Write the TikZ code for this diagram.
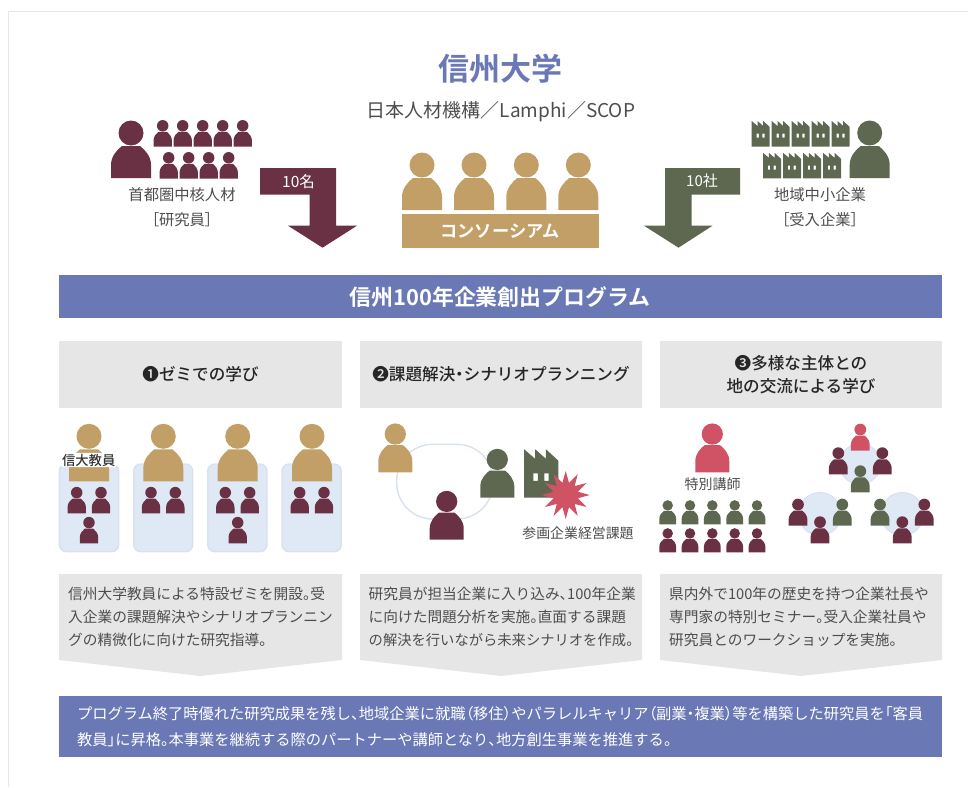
\documentclass[tikz,border=0pt]{standalone}
\usepackage{fontspec}
\setmainfont{Noto Sans CJK JP}[BoldFont={Noto Sans CJK JP Medium}]
\newfontfamily\pf{Noto Sans CJK JP}[RawFeature={+palt},BoldFont={Noto Sans CJK JP Medium}]
\newfontfamily\strongf{Noto Sans CJK JP Bold}
\newcommand{\pp}[1]{{\pf #1}}
\usetikzlibrary{shapes.geometric}
\definecolor{maroon}{HTML}{6A3145}
\definecolor{tan}{HTML}{C39F68}
\definecolor{olive}{HTML}{5E6851}
\definecolor{rosered}{HTML}{D05265}
\definecolor{peri}{HTML}{6A78B5}
\definecolor{greybox}{HTML}{E6E6E6}
\definecolor{txt}{HTML}{4D4D4D}
\definecolor{paleblue}{HTML}{DFE8F5}
\definecolor{paleedge}{HTML}{D9E0EF}
\newcommand{\fsz}[2]{\fontsize{#1}{#2}\selectfont}
% centre x, bottom y, scale, colour
\newcommand{\person}[4]{%
  \begin{scope}[shift={(#1,#2)},scale=#3]
    \fill[#4] (0,-45) circle[radius=12.5];
    \fill[#4] (-20,0) -- (-20,-13) .. controls (-20,-22) and (-14,-28) .. (-9,-32)
      -- (9,-32) .. controls (14,-28) and (20,-22) .. (20,-13) -- (20,0) -- cycle;
  \end{scope}}
% centre x, bottom y, scale, colour
\newcommand{\factory}[4]{%
  \begin{scope}[shift={(#1,#2)},scale=#3]
    \fill[#4,even odd rule] (-9,0) -- (-9,-25.5) -- (-3.2,-20.5) -- (-3.2,-25.5) -- (2.5,-20.5) -- (2.5,-25.5)
      -- (9,-19.5) -- (9,0) -- cycle
      (-4.1,-8.8) rectangle (-1.8,-12.8)
      (1.7,-8.8) rectangle (3.9,-12.8);
  \end{scope}}
\tikzset{
  label/.style={text=txt,inner sep=0pt,font=\fsz{15.3}{18}},
  head/.style={text=black!85,inner sep=0pt,font=\fsz{16.6}{23}\bfseries,align=center},
  desc/.style={text=txt,inner sep=0pt,anchor=north west,align=left,font=\fsz{14.7}{23}},
  band/.style={fill=peri},
  greyrect/.style={fill=greybox},
  seat/.style={fill=paleblue,draw=paleedge,line width=1.3pt,rounded corners=7pt},
  disc/.style={fill=paleblue,draw=paleedge,line width=1pt}
}
\begin{document}
\begin{tikzpicture}[x=1pt,y=-1pt]
\useasboundingbox (0,0) rectangle (968,787);
% frame
\draw[greybox,line width=.8pt] (8.5,787) -- (8.5,11.5) -- (968,11.5);

% title
\node[text=peri,inner sep=0pt,font=\fsz{31}{36}\strongf] (title) at (500,69) {信州大学};
\node[text=txt,inner sep=0pt,font=\fsz{19}{24}] (sub) at (501,112) {\pp{日本人材機構／Lamphi／SCOP}};

% researchers
\person{131}{178}{1}{maroon}
\foreach \x in {162.7,182.7,202.7,222.7,242.7} {\person{\x}{146.5}{.46}{maroon}}
\foreach \x in {168.7,188.7,208.7,228.7} {\person{\x}{178.5}{.46}{maroon}}
\node[label] (res1) at (182,195) {首都圏中核人材};
\node[label] (res2) at (182,220) {\pp{［研究員］}};

% left arrow
\fill[maroon] (260,168) -- (336,168) -- (336,225.7) -- (357,225.7) -- (322.5,247.7) -- (288,225.7) -- (309.5,225.7) -- (309.5,194.7) -- (260,194.7) -- cycle;
\node[text=white,inner sep=0pt,font=\fsz{15.5}{18}] (ten1) at (298.5,182) {\pp{10名}};

% consortium
\foreach \x in {422,474,526.3,578.3} {\person{\x}{210}{1}{tan}}
\fill[tan] (402,213.5) rectangle (599,248);
\node[text=white,inner sep=0pt,font=\fsz{17.2}{20}\strongf] (cons) at (500,231) {コンソーシアム};

% right arrow
\fill[olive] (740,168) -- (665,168) -- (665,225.7) -- (644,225.7) -- (678.5,247.7) -- (712.5,225.7) -- (691.5,225.7) -- (691.5,194.7) -- (740,194.7) -- cycle;
\node[text=white,inner sep=0pt,font=\fsz{15}{18}] (ten2) at (702,181) {\pp{10社}};

% companies
\foreach \x in {760.7,780.7,800.7,820.7,840.7} {\factory{\x}{146.5}{1}{olive}}
\foreach \x in {772,792,812,832} {\factory{\x}{178.3}{1}{olive}}
\person{869.7}{178}{1}{olive}
\node[label] (com1) at (820,195) {地域中小企業};
\node[label] (com2) at (820,220) {\pp{［受入企業］}};

% program band
\fill[band] (59,275) rectangle (942,318);
\node[text=white,inner sep=0pt,font=\fsz{21.9}{26}\strongf] (prog) at (500,297) {信州100年企業創出プログラム};

% column heads
\fill[greyrect] (59,341) rectangle (342,408);
\fill[greyrect] (360,341) rectangle (642,408);
\fill[greyrect] (660,341) rectangle (942,408);
\node[head] (h1) at (200.5,374) {❶ゼミでの学び};
\node[head] (h2) at (501,374) {❷課題解決\pp{・}シナリオプランニング};
\node[head] (h3) at (801,374.5) {❸多様な主体との\\地の交流による学び};

% column 1: seminars
\foreach \a/\b in {59.3/118.7,133.7/192.7,207.7/267,282/341.3} {\draw[seat] (\a,464) rectangle (\b,551.7);}
\foreach \x in {89,163.3,237.7,312} {\person{\x}{481.3}{1}{tan}}
\foreach \x in {76.7,101,151,175.3,225.3,249.7,299.7,324} {\person{\x}{513.3}{.46}{maroon}}
\foreach \x in {89,237.7} {\person{\x}{543.3}{.46}{maroon}}
\node[fill=white,rounded corners=3pt,inner xsep=1.5pt,inner ysep=1pt,text=black!80,font=\fsz{13.3}{16}\bfseries] (teach) at (88.7,460) {信大教員};

% column 2: triangle
\draw[paleedge,line width=1.4pt,rounded corners=36pt] (396.7,444.3) rectangle (493,519);
\person{395.3}{472.3}{.85}{tan}
\person{497.3}{497.7}{.85}{olive}
\person{446.7}{539.7}{.85}{maroon}
\factory{541.2}{497.7}{1.9}{olive}
\node[star,star points=12,star point ratio=1.9,minimum size=48pt,inner sep=0pt,fill=rosered] (burst) at (565.7,495) {};
\node[text=txt,inner sep=0pt,font=\fsz{13.9}{16}] (issue) at (578,533) {参画企業経営課題};

% column 3: lecturers
\person{712.3}{472.3}{.85}{rosered}
\node[text=txt,inner sep=0pt,font=\fsz{14}{16}] (lect) at (712.5,484) {特別講師};
\foreach \x in {667.7,690,712.3,734.7,757} {\person{\x}{524.3}{.42}{olive}\person{\x}{552.3}{.42}{maroon}}
\draw[disc] (860,464) circle[radius=20.5];
\draw[disc] (820,514) circle[radius=21.5];
\draw[disc] (902.3,514) circle[radius=21.5];
\person{860.3}{450.7}{.47}{rosered}
\person{838.3}{474.3}{.47}{maroon}
\person{882.3}{474.3}{.47}{maroon}
\person{860.3}{492.3}{.47}{olive}
\person{798}{525.7}{.47}{maroon}
\person{842.3}{525.7}{.47}{olive}
\person{820}{543.3}{.47}{maroon}
\person{880}{525.7}{.47}{olive}
\person{924.3}{525.7}{.47}{maroon}
\person{902.3}{543.3}{.47}{maroon}

% description pentagons
\fill[greyrect] (59,574) -- (342,574) -- (342,660) -- (200.5,676) -- (59,660) -- cycle;
\fill[greyrect] (360,574) -- (642,574) -- (642,660) -- (501,676) -- (360,660) -- cycle;
\fill[greyrect] (660,574) -- (942,574) -- (942,660) -- (801,676) -- (660,660) -- cycle;
\node[desc] (d1) at (68,586.5) {信州大学教員による特設ゼミを開設\pp{。}受\\入企業の課題解決やシナリオプランニン\\グの精微化に向けた研究指導\pp{。}};
\node[desc] (d2) at (368.5,586.5) {研究員が担当企業に入り込み\pp{、}\pp{100}年企業\\に向けた問題分析を実施\pp{。}直面する課題\\{\fsz{14.3}{23}の解決を行いながら未来シナリオを作成\pp{。}}};
\node[desc] (d3) at (669,586.5) {県内外で\pp{100}年の歴史を持つ企業社長や\\専門家の特別セミナー\pp{。}受入企業社員や\\研究員とのワークショップを実施\pp{。}};

% conclusion band
\fill[band] (59,696) rectangle (942,757);
\node[text=white,inner sep=0pt,anchor=north west,align=left,font=\fsz{15.25}{26}] (concl) at (77,706) {プログラム終了時優れた研究成果を残し\pp{、}地域企業に就職\pp{（}移住\pp{）}やパラレルキャリア\pp{（}副業\pp{・}複業\pp{）}等を構築した研究員を\pp{「}客員\\教員\pp{」}に昇格\pp{。}本事業を継続する際のパートナーや講師となり\pp{、}地方創生事業を推進する\pp{。}};
\end{tikzpicture}
\end{document}
